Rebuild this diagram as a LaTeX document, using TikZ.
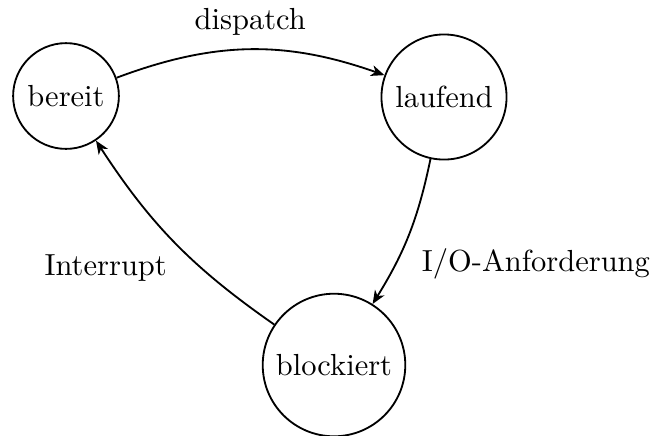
\documentclass[tikz,border=0pt]{standalone}
\usetikzlibrary{arrows.meta,positioning}
\begin{document}
\begin{tikzpicture}[x=0.328pt,y=-0.328pt,
  state/.style={circle,draw,line width=0.6pt},
  trans/.style={-{Stealth[length=4.4pt,width=3.6pt,inset=1.3pt]},line width=0.6pt}]
  \useasboundingbox (0,0) rectangle (657,435);
  \node[state] (bereit)    at (66,96)   {bereit};
  \node[state] (laufend)   at (444,97)  {laufend};
  \node[state] (blockiert) at (334,365) {blockiert};
  \draw[trans] (bereit) to[bend left=20]
    node[midway,above=1pt] {dispatch} (laufend);
  \draw[trans] (laufend) to[bend left=10]
    node[pos=0.72,right=5pt] {I/O-Anforderung} (blockiert);
  \draw[trans] (blockiert) to[bend left=11]
    node[pos=0.3,left=10.5pt,yshift=2.5pt] {Interrupt} (bereit);
\end{tikzpicture}
\end{document}
